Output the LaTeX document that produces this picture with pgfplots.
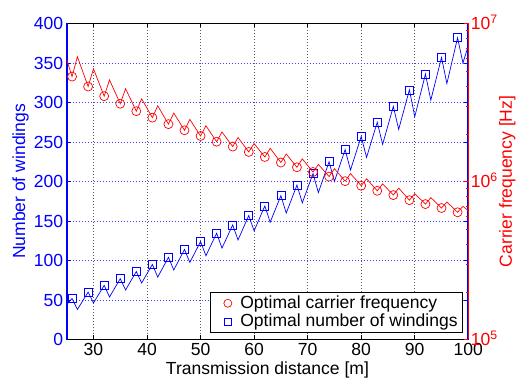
\documentclass[border=0pt]{standalone}
\usepackage{fontspec}
\setmainfont{Liberation Sans}
\usepackage{pgfplots}
\usepackage{pgfplotstable}
\pgfplotsset{compat=1.18}

\pgfplotstableread{
x N f
25 44 5.90e6
26 52 4.613e6
27 38 6.166e6
28 49 4.961e6
29 60 3.990e6
30 46.3 5.164e6
31 57.4 4.232e6
32 68.5 3.467e6
33 53.8 4.395e6
34 65.4 3.694e6
35 77 3.105e6
36 62.7 3.864e6
37 74.4 3.281e6
38 86 2.786e6
39 71.5 3.334e6
40 83.3 2.908e6
41 95 2.535e6
42 79 3.013e6
43 91.5 2.636e6
44 104 2.307e6
45 88 2.710e6
46 101 2.391e6
47 114 2.109e6
48 97.6 2.472e6
49 110.8 2.190e6
50 124 1.941e6
51 106 2.254e6
52 120.3 2.007e6
53 134.5 1.786e6
54 115.7 2.056e6
55 130.4 1.849e6
56 145 1.663e6
57 126 1.897e6
58 141.5 1.708e6
59 157 1.538e6
60 137.5 1.738e6
61 153.3 1.576e6
62 169 1.429e6
63 148.5 1.622e6
64 165.3 1.462e6
65 182 1.318e6
66 160 1.493e6
67 177.8 1.355e6
68 195.5 1.230e6
69 173 1.390e6
70 191.5 1.264e6
71 210 1.148e6
72 186 1.282e6
73 205.5 1.174e6
74 225 1.074e6
75 200 1.205e6
76 220.3 1.100e6
77 240.5 1.005e6
78 214.5 1.122e6
79 235.8 1.027e6
80 257 9.397e5
81 230.5 1.040e6
82 252.8 9.528e5
83 275 8.730e5
84 247 9.661e5
85 271 8.903e5
86 295 8.204e5
87 266 9.078e5
88 291 8.318e5
89 316 7.621e5
90 282 8.375e5
91 309 7.762e5
92 336 7.194e5
93 303 7.907e5
94 330 7.328e5
95 357 6.792e5
96 324 7.413e5
97 353 6.879e5
98 382 6.383e5
99 350 6.966e5
100 372 6.531e5
}\data

\begin{document}
\fontsize{17.6}{21}\selectfont
\begin{tikzpicture}
\begin{axis}[
  name=ax,
  scale only axis, width=401.6bp, height=316bp,
  xmin=25, xmax=100, ymin=0, ymax=400,
  xtick={30,40,...,100}, ytick={0,50,...,400},
  separate axis lines,
  x axis line style={black, line width=1.2bp},
  y axis line style={blue, line width=1.8bp},
  tick align=inside, major tick length=4bp,
  xtick style={black, line width=0.6bp},
  ytick style={blue, line width=0.6bp},
  xmajorgrids, ymajorgrids,
  major x grid style={black!65, line width=0.5bp, dash pattern=on 0.8bp off 2.2bp},
  major y grid style={blue!75, line width=0.5bp, dash pattern=on 0.8bp off 2.2bp},
  /pgf/number format/assume math mode=true,
  yticklabel style={blue, anchor=east, inner sep=0pt, xshift=-3.4bp},
  xticklabel style={black, anchor=base, inner sep=0pt, yshift=-15.5bp},
  xlabel={Transmission distance [m]},
  xlabel style={at={(axis description cs:0.5,-0.1123)}, anchor=base, inner sep=0pt},
  ylabel={Number of windings},
  ylabel style={blue, at={(axis description cs:-0.1038,0.5)}, anchor=base, inner sep=0pt},
]
\addplot[blue, line width=0.7bp, mark=square, mark size=4bp, mark repeat=3, mark phase=2,
  mark options={line width=0.7bp, solid}] table[x=x, y=N] {\data};
\end{axis}
\begin{axis}[
  scale only axis, width=401.6bp, height=316bp,
  at={(ax.south west)}, anchor=south west,
  xmin=25, xmax=100, ymode=log, ymin=1e5, ymax=1e7,
  axis x line=none, axis y line*=right,
  y axis line style={red, line width=0.8bp},
  ytick={1e5,1e6,1e7},
  yticklabels={10\textsuperscript{5},10\textsuperscript{6},10\textsuperscript{7}},
  minor ytick={2e5,3e5,4e5,5e5,6e5,7e5,8e5,9e5,2e6,3e6,4e6,5e6,6e6,7e6,8e6,9e6},
  tick align=inside, major tick length=4bp, minor tick length=2.5bp,
  ytick style={red, line width=0.6bp},
  minor y tick style={red, line width=0.6bp},
  yticklabel style={red, anchor=base west, inner sep=0pt, xshift=2.5bp, yshift=-6.5bp},
  ylabel={Carrier frequency [Hz]},
  ylabel style={red, at={(axis description cs:1.1088,0.5)}, anchor=base, inner sep=0pt},
  legend cell align=left,
  legend image code/.code={\path[draw=none, fill=none] (-14bp,-1bp) rectangle (10.5bp,1bp);
    \draw[#1] plot coordinates {(0bp,0bp)};},
  legend style={at={(0.987,0.02)}, anchor=south east, draw=black, line width=0.8bp,
    fill=white, inner xsep=3bp, inner ysep=1.5bp, row sep=-1bp},
]
\addplot[red, line width=0.7bp, mark=o, mark size=4.5bp, mark repeat=3, mark phase=2,
  mark options={line width=0.7bp, solid}, forget plot] table[x=x, y=f] {\data};
\addlegendimage{only marks, red, mark=o, mark size=4bp, mark options={line width=0.7bp}}
\addlegendentry{Optimal carrier frequency}
\addlegendimage{only marks, blue, mark=square, mark size=3.5bp, mark options={line width=0.7bp}}
\addlegendentry{Optimal number of windings}
\end{axis}
\pgfresetboundingbox
\path (ax.south west) ++(-66.7bp,-39.5bp) rectangle ++(521bp,379bp);
\end{tikzpicture}
\end{document}
